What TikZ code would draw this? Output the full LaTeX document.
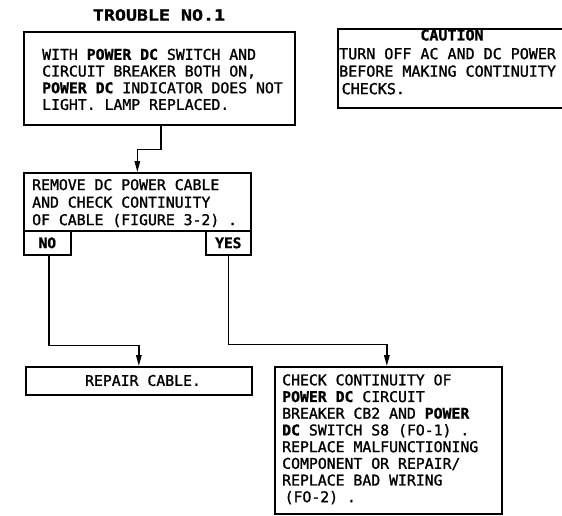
\documentclass[tikz,border=0pt]{standalone}
\usepackage{fontspec}
\newfontfamily\plotfont[UprightFeatures={FakeBold=1.3}, BoldFeatures={FakeBold=1.2}]{DejaVu Sans Mono}
\newfontfamily\titlefont[FakeStretch=1.18, BoldFeatures={FakeBold=1.2}]{DejaVu Sans Mono}
\usetikzlibrary{arrows.meta}
\tikzset{
  box/.style={draw, line width=1.7pt, inner sep=0pt, anchor=north west},
  txt/.style={anchor=north west, inner sep=0pt, align=left,
    font=\plotfont\fontsize{14.8}{17.3}\selectfont},
  tag/.style={box, font=\plotfont\bfseries\fontsize{14.5}{17}\selectfont},
  wire/.style={line width=1.5pt},
  arr/.style={wire, -{Triangle[length=11pt,width=5.5pt]}},
}
\begin{document}
\begin{tikzpicture}[x=1pt,y=-1pt]
\useasboundingbox (0,0) rectangle (562,515);
\clip (0,0) rectangle (562,515);

% title
\node[font=\titlefont\bfseries\fontsize{15.5}{17}\selectfont] (title) at (159,15) {TROUBLE NO.1};

% trouble box
\node[box, minimum width=271pt, minimum height=93pt] (b1) at (23,31) {};
\node[txt, font=\plotfont\fontsize{14.8}{16.7}\selectfont] (b1text) at (42,48.6)
  {WITH \textbf{POWER DC} SWITCH AND\\
   CIRCUIT BREAKER BOTH ON,\\
   \textbf{POWER DC} INDICATOR DOES NOT\\
   LIGHT. LAMP REPLACED.};

% caution box
\node[box, minimum width=245pt, minimum height=79pt] (caution) at (337,28) {};
\node[font=\plotfont\bfseries\fontsize{15}{17}\selectfont] (cautiontitle) at (452,35) {CAUTION};
\node[txt, font=\plotfont\fontsize{15}{17.5}\selectfont] (cautionbody) at (339,47.8)
  {TURN OFF AC AND DC POWER\\
   BEFORE MAKING CONTINUITY\\
   \,CHECKS.};

% decision box
\node[box, minimum width=227pt, minimum height=58pt] (b2) at (23,172) {};
\node[txt, font=\plotfont\fontsize{14.8}{17.5}\selectfont] (b2text) at (32,178.9)
  {REMOVE DC POWER CABLE\\
   AND CHECK CONTINUITY\\
   OF CABLE (FIGURE 3-2) .};
\node[tag, minimum width=47pt, minimum height=24pt] (no) at (23,230) {NO};
\node[tag, minimum width=45pt, minimum height=24pt] (yes) at (205,230) {YES};

% outcomes
\node[box, minimum width=226pt, minimum height=28pt] (repair) at (25,366) {};
\node[font=\plotfont\fontsize{14.8}{17}\selectfont] (repairtext) at (143,380.5) {REPAIR CABLE.};
\node[box, minimum width=227pt, minimum height=147pt] (b4) at (274,366) {};
\node[txt, font=\plotfont\fontsize{14.8}{16.7}\selectfont] (b4text) at (282,374.1)
  {CHECK CONTINUITY OF\\
   \textbf{POWER DC} CIRCUIT\\
   BREAKER CB2 AND \textbf{POWER}\\
   \textbf{DC} SWITCH S8 (FO-1) .\\
   REPLACE MALFUNCTIONING\\
   COMPONENT OR REPAIR/\\
   REPLACE BAD WIRING\\
   \,(FO-2) .};

% connectors
\draw[arr] ([xshift=1.5pt]b1.south) -- ++(0,24) -| (b2.north);
\draw[arr] ([xshift=1.5pt]no.south) -- ++(0,90) -| (repair.north);
\draw[arr] (yes.south) -- ++(0,89) -| ([xshift=-1.5pt]b4.north);
\end{tikzpicture}
\end{document}
